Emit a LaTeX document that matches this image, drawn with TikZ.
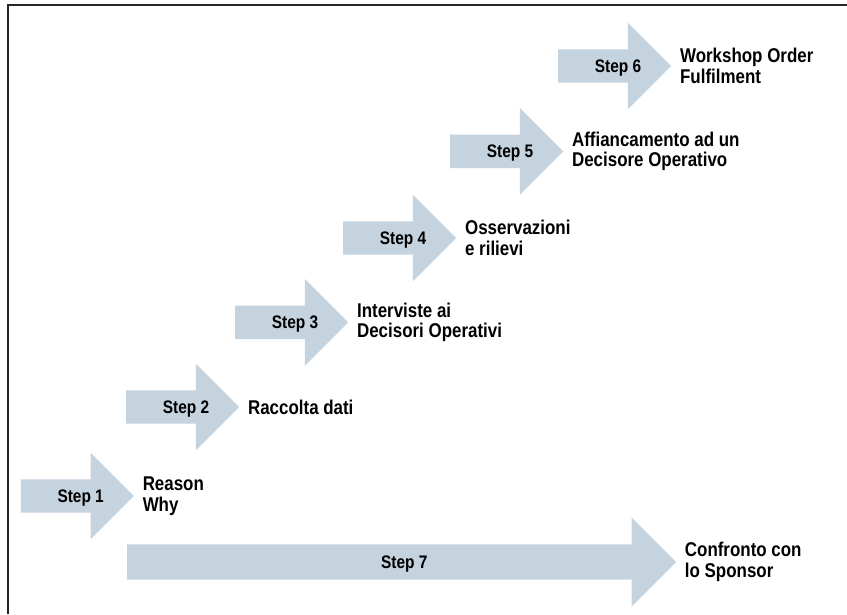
\documentclass[tikz,border=0pt]{standalone}
\usepackage{fontspec}
\setmainfont{Liberation Sans}[FakeStretch=0.85]
\usetikzlibrary{shapes.arrows,positioning}
\definecolor{stepblue}{RGB}{197,211,223}

\begin{document}
\begin{tikzpicture} [node distance=0.25cm,
    step node/.style={single arrow,fill=stepblue,draw=none,
      single arrow head extend=0.795cm,minimum height=3.39cm,
      inner ysep=0pt,text height=0.68cm,text depth=0.31cm,
      execute at begin node={\hspace*{0.7cm}},
      font=\bfseries\fontsize{15.5}{16}\selectfont},
    long step node/.style={step node,minimum height=16.47cm,
      text height=0.71cm,text depth=0.34cm,single arrow head extend=0.8cm},
    phase node/.style={align=left,inner sep=0pt,
      font=\bfseries\fontsize{17}{17.5}\selectfont}]

  \useasboundingbox (0,0) rectangle (25.41,18.42);
  \draw[line width=0.06cm, black!85] (0.25,0) |- (25.41,18.26);

  % the steps
  \node [step node] (step1) at (2.07,3.54) {Step 1};
  \node [step node] (step2) at (5.23,6.21) {Step 2};
  \node [step node] (step3) at (8.5,8.75) {Step 3};
  \node [step node] (step4) at (11.74,11.28) {Step 4};
  \node [step node] (step5) at (14.95,13.88) {Step 5};
  \node [step node] (step6) at (18.19,16.44) {Step 6};
  \node [long step node] (step7) at (11.78,1.56) {Step 7};

  % what each step is about
  \node [phase node, right=of step1.tip] (phase1) {Reason\\Why};
  \node [phase node, right=of step2.tip] (phase2) {Raccolta dati};
  \node [phase node, right=of step3.tip] (phase3) {Interviste ai\\Decisori Operativi};
  \node [phase node, right=of step4.tip] (phase4) {Osservazioni\\e rilievi};
  \node [phase node, right=of step5.tip] (phase5) {Affiancamento ad un\\Decisore Operativo};
  \node [phase node, right=of step6.tip] (phase6) {Workshop Order\\Fulfilment};
  \node [phase node, right=of step7.tip] (phase7) {Confronto con\\lo Sponsor};

\end{tikzpicture}
\end{document}
